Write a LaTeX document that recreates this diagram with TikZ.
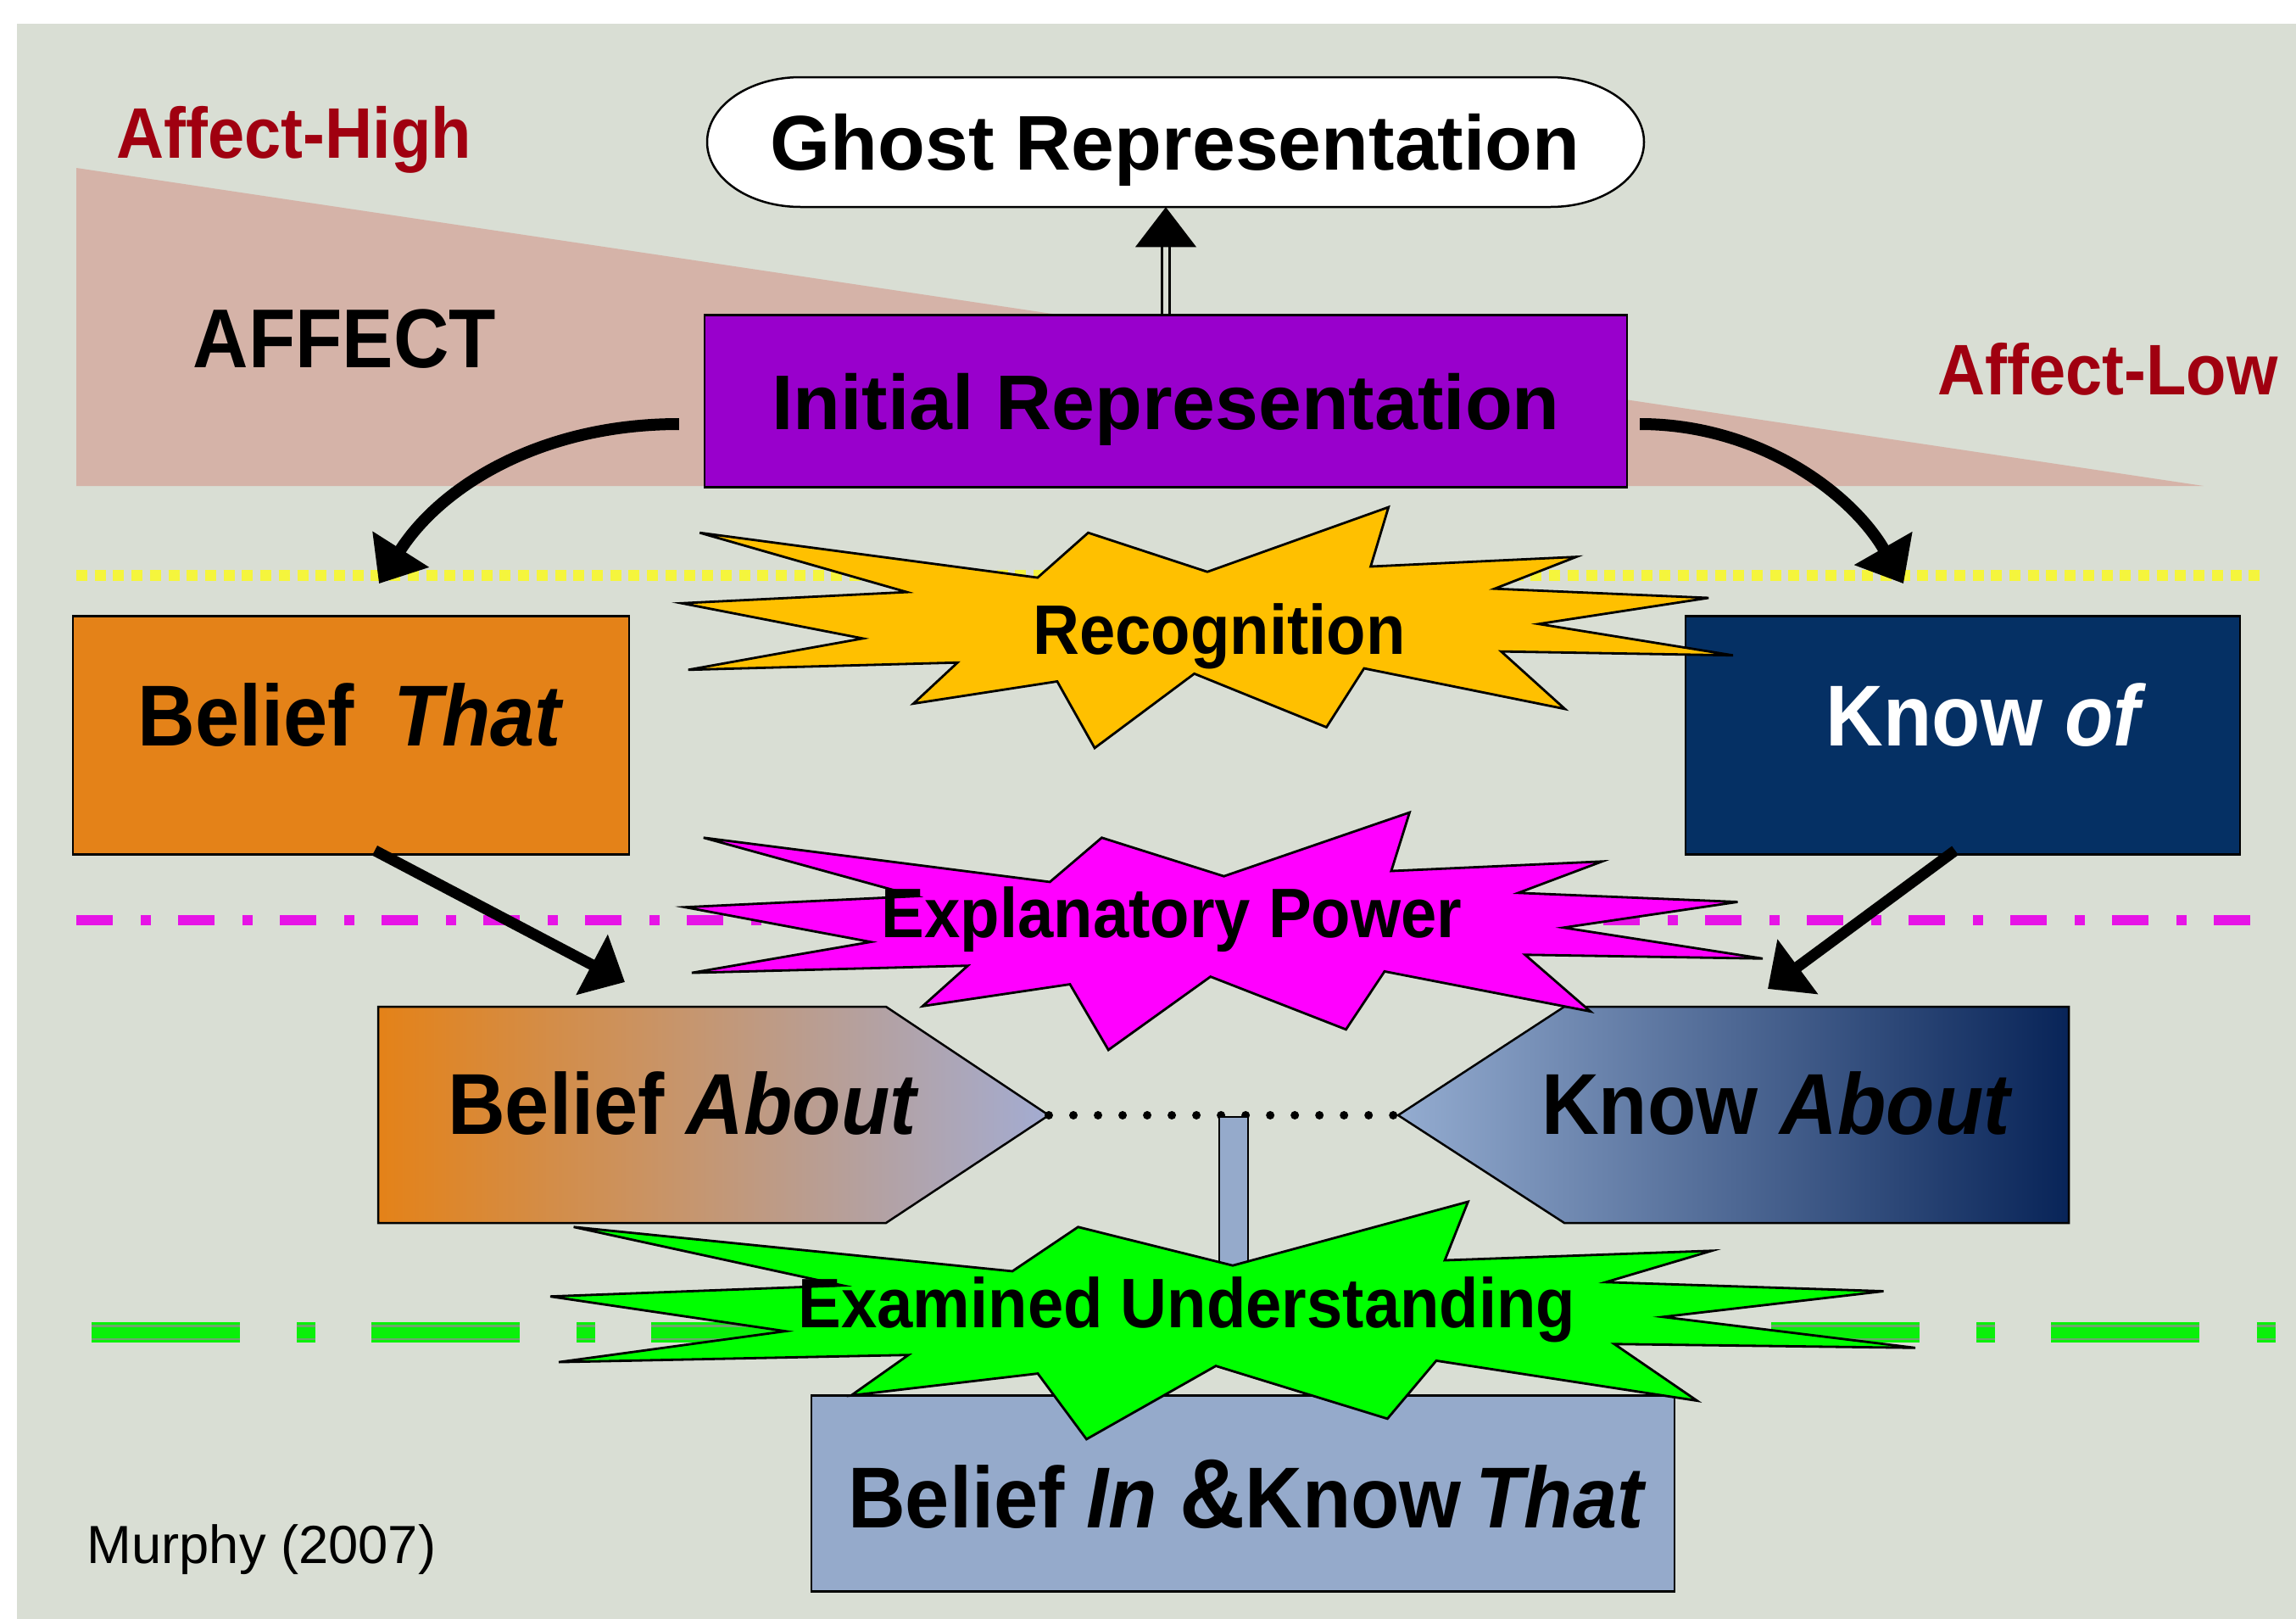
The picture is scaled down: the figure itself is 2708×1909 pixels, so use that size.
\documentclass[tikz,border=0pt]{standalone}
\usepackage{fontspec}
\setmainfont{Liberation Sans}
\newfontfamily\narrowsans[FakeStretch=0.92]{Liberation Sans}
\usetikzlibrary{arrows.meta,calc}

\definecolor{bgcol}{RGB}{217,222,212}
\definecolor{affectpink}{RGB}{213,179,168}
\definecolor{affectred}{RGB}{160,0,16}
\definecolor{initpurple}{RGB}{153,0,204}
\definecolor{thatorange}{RGB}{228,130,24}
\definecolor{ofnavy}{RGB}{5,48,100}
\definecolor{inblue}{RGB}{149,170,203}
\definecolor{aboutgray}{RGB}{163,172,210}
\definecolor{aboutblue}{RGB}{148,172,208}
\definecolor{aboutmid}{RGB}{108,140,186}
\definecolor{aboutnavy}{RGB}{8,36,88}
\definecolor{recyellow}{RGB}{255,192,0}
\definecolor{explmagenta}{RGB}{255,0,255}
\definecolor{examgreen}{RGB}{0,255,0}
\definecolor{dotyellow}{RGB}{245,245,60}
\definecolor{dashmagenta}{RGB}{230,20,230}
\definecolor{dashgreen}{RGB}{10,240,10}
\definecolor{dashedge}{RGB}{110,165,110}

\tikzset{
  stagebox/.style={draw=black, line width=0.025cm, inner sep=0pt, text depth=0pt},
  boxfont/.style={font=\narrowsans\bfseries\fontsize{29}{32}\selectfont},
  widefont/.style={font=\bfseries\fontsize{26}{28}\selectfont},
  burstfont/.style={font=\narrowsans\bfseries\fontsize{23.5}{26}\selectfont, inner sep=0pt, text depth=0pt},
  affectfont/.style={font=\narrowsans\bfseries\fontsize{24}{26}\selectfont, text=affectred, inner sep=0pt, anchor=base west},
  burstline/.style={draw=black, line width=0.028cm},
  bend arrow/.style={line width=0.14cm, -{Triangle[length=0.48cm,width=0.76cm]}},
  flow arrow/.style={line width=0.13cm, -{Triangle[length=0.44cm,width=0.78cm]}},
  dotline/.style={dotyellow, line width=0.13cm, dash pattern=on 0.13cm off 0.087cm},
  dashdotline/.style={dashmagenta, line width=0.12cm, dash pattern=on 0.43cm off 0.33cm on 0.12cm off 0.32cm},
  greenline/.style={dash pattern=on 1.75cm off 0.67cm on 0.22cm off 0.66cm},
}

\newcommand{\drawburst}[5]{%
  \filldraw[burstline, fill=#1, shift={(#2,#3)}, xscale=#4/216, yscale=#5/216]
    (108,58) -- (145.22,0) -- (141.55,53.25) -- (183.8,44.57) -- (167.02,73.15)
    -- (210.97,81.37) -- (176.07,104.75) -- (216,132.9) -- (168.37,129.42)
    -- (181.45,180.95) -- (140.2,144.57) -- (132.47,197.37) -- (105.32,149.35)
    -- (84.85,216) -- (77.15,156.27) -- (47.62,176.17) -- (56.67,139.37)
    -- (1.35,145.87) -- (37.22,117.75) -- (0,86.15) -- (46.27,76.17)
    -- (3.7,22.95) -- (73.12,63.2) -- (83.52,22.95) -- cycle;}

\begin{document}
\begin{tikzpicture}[x=0.01cm, y=-0.01cm]
    \useasboundingbox (0,0) rectangle (2708,1909);
    \fill[white] (0,0) rectangle (2708,1909);
    \fill[bgcol] (20,28) rectangle (2708,1909);
    \fill[affectpink] (90,198) -- (90,573) -- (2599,573) -- cycle;

    \coordinate (yl) at (90,678);
    \coordinate (yr) at (2668,678);
    \coordinate (ml) at (90,1085);
    \coordinate (mr) at (2668,1085);
    \coordinate (gl) at (108,1571);
    \coordinate (gr) at (2686,1571);
    \draw[dotline] (yl) -- (yr);
    \draw[dashdotline] (ml) -- (mr);
    \draw[greenline, dashgreen, line width=0.24cm] (gl) -- (gr);
    \draw[greenline, dashedge, line width=0.025cm, double=dashgreen, double distance=0.13cm] (gl) -- (gr);

    \node[affectfont] (high) at (137,186) {Affect-High};
    \node[affectfont] (low) at (2285,465) {Affect-Low};
    \node[anchor=base west, inner sep=0pt, font=\narrowsans\bfseries\fontsize{28}{30}\selectfont] (affect) at (227,433) {AFFECT};

    \filldraw[fill=white, draw=black, line width=0.025cm] (944,91) -- (1829,91)
        arc[start angle=-90, end angle=90, x radius=110, y radius=76.5] -- (944,244)
        arc[start angle=90, end angle=270, x radius=110, y radius=76.5] -- cycle;
    \node[widefont, inner sep=0pt, text depth=0pt, minimum width=11.05cm, minimum height=1.53cm] (ghost) at (1386,167) {Ghost Representation};
    \node[stagebox, widefont, fill=initpurple, minimum width=10.87cm, minimum height=2.03cm] (init) at (1375,473) {Initial Representation};

    \coordinate (ghostfoot) at (init.north |- ghost.south);
    \draw[line width=0.03cm, double=bgcol, double distance=0.06cm] (init.north) -- ($(ghostfoot)+(0,47)$);
    \fill ($(ghostfoot)+(-36,47)$) -- (ghostfoot) -- ($(ghostfoot)+(36,47)$) -- cycle;

    \node[stagebox, boxfont, fill=thatorange, minimum width=6.56cm, minimum height=2.81cm, text depth=0.48cm] (beliefthat) at (414,867) {Belief\hspace{0.45em}\textit{That}};
    \node[stagebox, boxfont, fill=ofnavy, text=white, minimum width=6.54cm, minimum height=2.81cm, text depth=0.48cm] (knowof) at (2315,867) {\hspace{0.55cm}Know \textit{of}};

    \draw[bend arrow] ($(init.west)+(-29,27)$) .. controls +(-163,0) and +(73,-115) .. ($(beliefthat.north)+(33,-37)$);
    \draw[bend arrow] ($(init.east)+(14,27)$) .. controls +(142,0) and +(-60,-105) .. ($(knowof.north)+(-70,-37)$);

    \shadedraw[draw=black, line width=0.025cm, left color=thatorange, right color=aboutgray]
        (446,1187) -- (1045,1187) -- (1237,1315) -- (1045,1442) -- (446,1442) -- cycle;
    \shadedraw[draw=black, line width=0.025cm, left color=aboutblue, middle color=aboutmid, right color=aboutnavy]
        (1649,1315) -- (1845,1187) -- (2440,1187) -- (2440,1442) -- (1845,1442) -- cycle;
    \node[boxfont, inner sep=0pt, text depth=0pt] (beliefabout) at (806,1301) {Belief \textit{About}};
    \node[boxfont, inner sep=0pt, text depth=0pt] (knowabout) at (2096,1301) {Know \textit{About}};

    \coordinate (tipleft) at (1237,1315);
    \coordinate (tipright) at (1649,1315);
    \draw[line width=0.1cm, line cap=round, dash pattern=on 0pt off 0.29cm] (tipleft) -- (tipright);
    \filldraw[fill=inblue, draw=black, line width=0.025cm] (1438,1317) rectangle (1472,1560);

    \node[stagebox, boxfont, fill=inblue, minimum width=10.17cm, minimum height=2.31cm] (beliefin) at (1466,1761) {\hspace{0.1cm}Belief\ \textit{In} {\fontsize{33}{34}\selectfont\&}Know\,\textit{That}};

    \drawburst{recyellow}{804}{598}{1240}{284}
    \drawburst{explmagenta}{808}{958}{1271}{280}
    \drawburst{examgreen}{649}{1417}{1610}{280}
    \node[burstfont] (recog) at (1438,742) {Recognition};
    \node[burstfont] (expl) at (1382,1076) {Explanatory Power};
    \node[burstfont] (exam) at (1400,1536) {Examined Understanding};

    \draw[flow arrow] ($(beliefthat.south)+(28,-6)$) -- ($(beliefabout)+(-69,-143)$);
    \draw[flow arrow] ($(knowof.south)+(-9,-6)$) -- ($(knowabout)+(-11,-135)$);

    \node[anchor=base west, inner sep=0pt, font=\fontsize{18}{20}\selectfont] (cite) at (102,1843) {Murphy (2007)};
\end{tikzpicture}
\end{document}
